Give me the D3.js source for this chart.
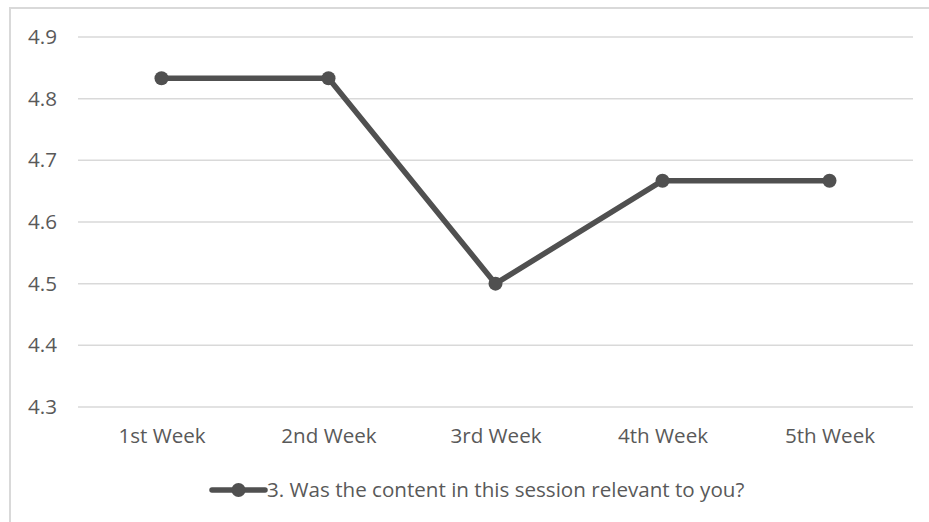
<!DOCTYPE html>
<html>
<head>
<meta charset="utf-8">
<script src="https://cdn.jsdelivr.net/npm/d3@7"></script>
<style>
  html, body { margin: 0; padding: 0; background: #fff; }
  svg { display: block; font-family: "Open Sans", Lato, sans-serif; }
</style>
</head>
<body>
<svg id="chart" width="929" height="522"></svg>
<script>
// Weekly average rating for survey question 3
const weeks = ["1st Week", "2nd Week", "3rd Week", "4th Week", "5th Week"];
const ratings = [4.833, 4.833, 4.5, 4.667, 4.667];
const yTicks = [4.3, 4.4, 4.5, 4.6, 4.7, 4.8, 4.9];
const seriesName = "3. Was the content in this session relevant to you?";

const svg = d3.select("#chart");
const W = 929, H = 522;
const plot = { left: 78, right: 913, top: 37, bottom: 407 };
const font = "'Open Sans', Lato, sans-serif";
const fontSize = 20.6;
const textColor = "#595959";

// chart frame
svg.append("rect")
  .attr("x", 10).attr("y", 8)
  .attr("width", W + 10).attr("height", H + 10)
  .attr("fill", "#fff")
  .attr("stroke", "#d9d9d9").attr("stroke-width", 2);

const x = d3.scalePoint().domain(weeks)
  .range([plot.left, plot.right]).padding(0.5);
const y = d3.scaleLinear().domain([4.3, 4.9])
  .range([plot.bottom, plot.top]);

// horizontal gridlines
svg.append("g").selectAll("line").data(yTicks).join("line")
  .attr("x1", plot.left).attr("x2", plot.right)
  .attr("y1", d => y(d)).attr("y2", d => y(d))
  .attr("stroke", "#d9d9d9").attr("stroke-width", 1.5);

// y axis labels
const yAxis = svg.append("g")
  .attr("transform", `translate(${plot.left - 21},0)`)
  .call(d3.axisLeft(y).tickValues(yTicks).tickFormat(d3.format(".1f")).tickSize(0).tickPadding(0));
yAxis.select(".domain").remove();
yAxis.selectAll("text")
  .attr("fill", textColor).attr("font-size", fontSize)
  .attr("font-family", font);

// x axis labels
const xAxis = svg.append("g")
  .attr("transform", `translate(0,${plot.bottom + 21})`)
  .call(d3.axisBottom(x).tickSize(0).tickPadding(0));
xAxis.select(".domain").remove();
xAxis.selectAll("text")
  .attr("fill", textColor).attr("font-size", fontSize)
  .attr("font-family", font);

const lineColor = "#505050";

// rating line
svg.append("path")
  .datum(ratings)
  .attr("fill", "none")
  .attr("stroke", lineColor).attr("stroke-width", 5.5)
  .attr("stroke-linejoin", "round").attr("stroke-linecap", "round")
  .attr("d", d3.line().x((d, i) => x(weeks[i])).y(d => y(d)));

// markers
svg.append("g").selectAll("circle").data(ratings).join("circle")
  .attr("cx", (d, i) => x(weeks[i])).attr("cy", d => y(d))
  .attr("r", 7).attr("fill", lineColor);

// legend
const leg = svg.append("g").attr("transform", "translate(212,490)");
leg.append("line").attr("x1", 0).attr("x2", 53).attr("y1", 0).attr("y2", 0)
  .attr("stroke", lineColor).attr("stroke-width", 5.5).attr("stroke-linecap", "round");
leg.append("circle").attr("cx", 26.5).attr("cy", 0).attr("r", 7).attr("fill", lineColor);
leg.append("text").attr("x", 55).attr("y", 0).attr("dy", "0.35em")
  .attr("fill", textColor).attr("font-size", fontSize).attr("font-family", font)
  .text(seriesName);
</script>
</body>
</html>
